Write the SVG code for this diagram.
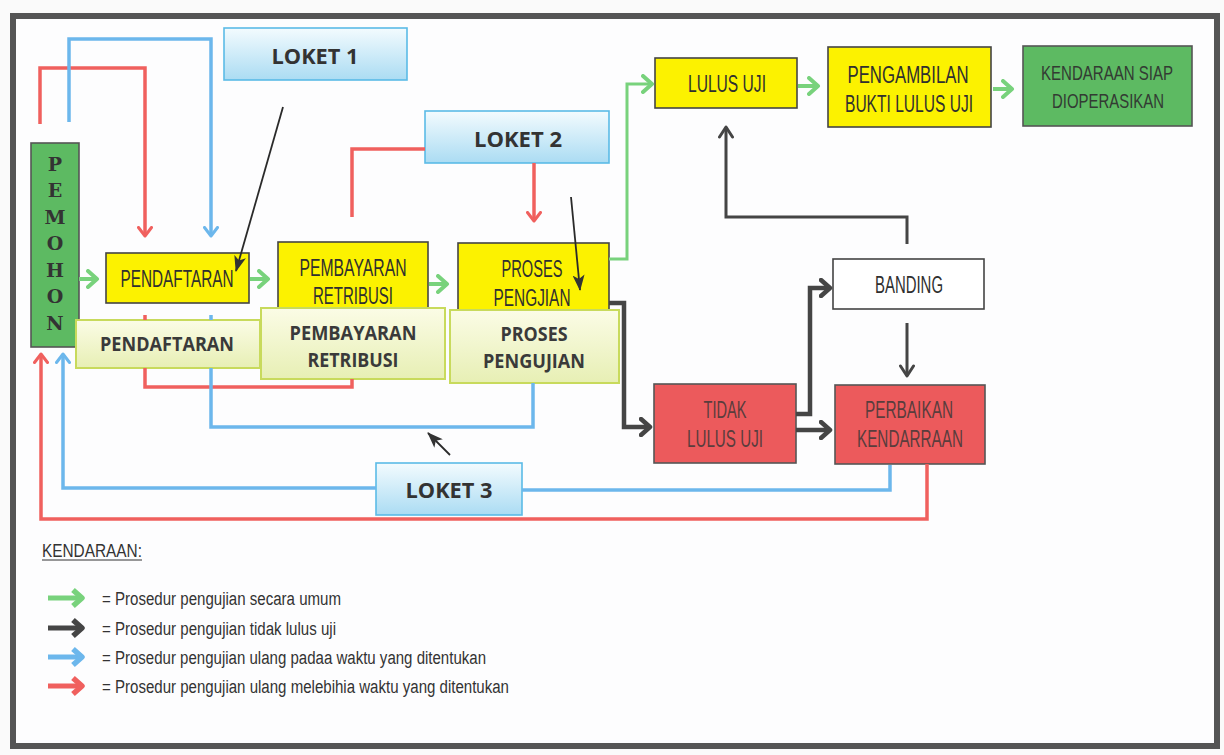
<svg xmlns="http://www.w3.org/2000/svg" width="1224" height="755" viewBox="0 0 1224 755">
<style>
.frame{fill:#fdfdfe;stroke:#555;stroke-width:6}
.yb{fill:#fcf200;stroke:#444;stroke-width:1.6}
.rb{fill:#ec5a5c;stroke:#555;stroke-width:1.6}
.gb{fill:#5dba62;stroke:#555;stroke-width:1.6}
.wb{fill:#fff;stroke:#444;stroke-width:1.6}
.lb{fill:url(#glk);stroke:#5bbbe6;stroke-width:1.6}
.pb{fill:url(#gpl);stroke:#c8da5c;stroke-width:2}
.yt{font-family:"Liberation Sans",Arial,sans-serif;font-size:23px;fill:#2f2f2f;text-anchor:middle}
.rt{font-family:"Liberation Sans",Arial,sans-serif;font-size:23px;fill:#5a3d3d;text-anchor:middle}
.gt{font-family:"Liberation Sans",Arial,sans-serif;font-size:21px;fill:#333b33;text-anchor:middle}
.pt{font-family:"Open Sans","Liberation Sans",sans-serif;font-weight:bold;font-size:19px;fill:#3a3a3a;text-anchor:middle}
.lk{font-family:"Open Sans","Liberation Sans",sans-serif;font-weight:bold;font-size:21px;fill:#333;text-anchor:middle}
.pm{font-family:"DejaVu Serif",serif;font-weight:bold;font-size:19px;fill:#333;text-anchor:middle}
.lg{font-family:"Liberation Sans",Arial,sans-serif;font-size:18px;fill:#333}
.cg{fill:none;stroke:#78d27c;stroke-width:4}
.cgt{fill:none;stroke:#78d27c;stroke-width:3}
.cd{fill:none;stroke:#454545;stroke-width:4.5}
.cdt{fill:none;stroke:#454545;stroke-width:3}
.ck{fill:none;stroke:#2a2a2a;stroke-width:1.8}
.cr{fill:none;stroke:#f0605e;stroke-width:3.5}
.cb{fill:none;stroke:#6cb7ec;stroke-width:3.5}
</style>
<defs>
<linearGradient id="glk" x1="0" y1="0" x2="0" y2="1"><stop offset="0" stop-color="#f3fbfe"/><stop offset="1" stop-color="#abdcf3"/></linearGradient>
<linearGradient id="gpl" x1="0" y1="0" x2="0" y2="1"><stop offset="0" stop-color="#fbfce6"/><stop offset="1" stop-color="#e7efb4"/></linearGradient>
<marker id="ag" viewBox="0 0 14 20" refX="11" refY="10" markerWidth="14" markerHeight="20" orient="auto" markerUnits="userSpaceOnUse"><path d="M2,2 L11,10 L2,18" fill="none" stroke="#78d27c" stroke-width="4" stroke-linejoin="round" stroke-linecap="round"/></marker>
<marker id="ad" viewBox="0 0 14 20" refX="11" refY="10" markerWidth="14" markerHeight="20" orient="auto" markerUnits="userSpaceOnUse"><path d="M2,2 L11,10 L2,18" fill="none" stroke="#454545" stroke-width="4.5" stroke-linejoin="round" stroke-linecap="round"/></marker>
<marker id="adt" viewBox="0 0 14 16" refX="12" refY="8" markerWidth="14" markerHeight="16" orient="auto" markerUnits="userSpaceOnUse"><path d="M2,1.5 L12,8 L2,14.5" fill="none" stroke="#454545" stroke-width="3" stroke-linejoin="round" stroke-linecap="round"/></marker>
<marker id="ak" viewBox="0 0 16 12" refX="15" refY="6" markerWidth="16" markerHeight="12" orient="auto" markerUnits="userSpaceOnUse"><path d="M0,0 L16,6 L0,12 L4,6 Z" fill="#333"/></marker>
<marker id="ar" viewBox="0 0 12 16" refX="10" refY="8" markerWidth="12" markerHeight="16" orient="auto" markerUnits="userSpaceOnUse"><path d="M1.5,1.5 L10,8 L1.5,14.5" fill="none" stroke="#f0605e" stroke-width="3" stroke-linecap="round" stroke-linejoin="round"/></marker>
<marker id="ab" viewBox="0 0 12 16" refX="10" refY="8" markerWidth="12" markerHeight="16" orient="auto" markerUnits="userSpaceOnUse"><path d="M1.5,1.5 L10,8 L1.5,14.5" fill="none" stroke="#6cb7ec" stroke-width="3" stroke-linecap="round" stroke-linejoin="round"/></marker>
<marker id="lgg" viewBox="0 0 16 22" refX="12" refY="11" markerWidth="16" markerHeight="22" orient="auto" markerUnits="userSpaceOnUse"><path d="M3,3 L12,11 L3,19" fill="none" stroke="#78d27c" stroke-width="5.5" stroke-linejoin="round"/></marker>
<marker id="lgd" viewBox="0 0 16 22" refX="12" refY="11" markerWidth="16" markerHeight="22" orient="auto" markerUnits="userSpaceOnUse"><path d="M3,3 L12,11 L3,19" fill="none" stroke="#454545" stroke-width="5.5" stroke-linejoin="round"/></marker>
<marker id="lgb" viewBox="0 0 16 22" refX="12" refY="11" markerWidth="16" markerHeight="22" orient="auto" markerUnits="userSpaceOnUse"><path d="M3,3 L12,11 L3,19" fill="none" stroke="#6cb7ec" stroke-width="5.5" stroke-linejoin="round"/></marker>
<marker id="lgr" viewBox="0 0 16 22" refX="12" refY="11" markerWidth="16" markerHeight="22" orient="auto" markerUnits="userSpaceOnUse"><path d="M3,3 L12,11 L3,19" fill="none" stroke="#f0605e" stroke-width="5.5" stroke-linejoin="round"/></marker>
</defs>
<rect x="0" y="0" width="1224" height="755" fill="#fafafa"/>
<rect class="frame" x="13" y="16" width="1204" height="730"/>

<g id="pemohon"><rect class="gb" x="31" y="143" width="48" height="204"/>
<text class="pm" x="55" y="171">P</text><text class="pm" x="55" y="197">E</text><text class="pm" x="55" y="224">M</text><text class="pm" x="55" y="250">O</text><text class="pm" x="55" y="277">H</text><text class="pm" x="55" y="303">O</text><text class="pm" x="55" y="330">N</text></g>

<g id="pendaftaran"><rect class="yb" x="106" y="253" width="143" height="50"/><text class="yt" x="177" y="287" textLength="113" lengthAdjust="spacingAndGlyphs">PENDAFTARAN</text></g>
<g id="pembayaran"><rect class="yb" x="278" y="242" width="150" height="66"/><text class="yt" x="353" y="276" textLength="107" lengthAdjust="spacingAndGlyphs">PEMBAYARAN</text><text class="yt" x="353" y="304" textLength="80" lengthAdjust="spacingAndGlyphs">RETRIBUSI</text></g>
<g id="proses"><rect class="yb" x="458" y="243" width="151" height="67"/><text class="yt" x="532" y="277" textLength="61" lengthAdjust="spacingAndGlyphs">PROSES</text><text class="yt" x="532" y="306" textLength="77" lengthAdjust="spacingAndGlyphs">PENGJIAN</text></g>

<g id="pendaftaran-2"><rect class="pb" x="76" y="320" width="184" height="48"/><text class="pt" x="167" y="351" textLength="134" lengthAdjust="spacingAndGlyphs">PENDAFTARAN</text></g>
<g id="pembayaran-2"><rect class="pb" x="261" y="308" width="184" height="71"/><text class="pt" x="353" y="340" textLength="127" lengthAdjust="spacingAndGlyphs">PEMBAYARAN</text><text class="pt" x="353" y="367" textLength="91" lengthAdjust="spacingAndGlyphs">RETRIBUSI</text></g>
<g id="proses-2"><rect class="pb" x="450" y="310" width="169" height="73"/><text class="pt" x="534" y="341" textLength="67" lengthAdjust="spacingAndGlyphs">PROSES</text><text class="pt" x="534" y="368" textLength="102" lengthAdjust="spacingAndGlyphs">PENGUJIAN</text></g>

<g id="loket1"><rect class="lb" x="224" y="28" width="183" height="52"/><text class="lk" x="315" y="64" textLength="87" lengthAdjust="spacingAndGlyphs">LOKET 1</text></g>
<g id="loket2"><rect class="lb" x="425" y="111" width="184" height="52"/><text class="lk" x="518" y="147" textLength="88" lengthAdjust="spacingAndGlyphs">LOKET 2</text></g>
<g id="loket3"><rect class="lb" x="376" y="463" width="146" height="52"/><text class="lk" x="449" y="498" textLength="87" lengthAdjust="spacingAndGlyphs">LOKET 3</text></g>

<g id="lulus"><rect class="yb" x="655" y="58" width="142" height="50"/><text class="yt" x="727" y="92" textLength="78" lengthAdjust="spacingAndGlyphs">LULUS UJI</text></g>
<g id="pengambilan"><rect class="yb" x="828" y="47" width="163" height="80"/><text class="yt" x="908" y="83" textLength="121" lengthAdjust="spacingAndGlyphs">PENGAMBILAN</text><text class="yt" x="909" y="112" textLength="128" lengthAdjust="spacingAndGlyphs">BUKTI LULUS UJI</text></g>
<g id="kendaraan"><rect class="gb" x="1023" y="46" width="169" height="80"/><text class="gt" x="1107" y="80" textLength="132" lengthAdjust="spacingAndGlyphs">KENDARAAN SIAP</text><text class="gt" x="1108" y="108" textLength="112" lengthAdjust="spacingAndGlyphs">DIOPERASIKAN</text></g>
<g id="banding"><rect class="wb" x="833" y="259" width="151" height="50"/><text class="yt" x="909" y="293" textLength="68" lengthAdjust="spacingAndGlyphs">BANDING</text></g>
<g id="tidak"><rect class="rb" x="654" y="384" width="142" height="79"/><text class="rt" x="725" y="418" textLength="43" lengthAdjust="spacingAndGlyphs">TIDAK</text><text class="rt" x="725" y="447" textLength="76" lengthAdjust="spacingAndGlyphs">LULUS UJI</text></g>
<g id="perbaikan"><rect class="rb" x="835" y="385" width="150" height="79"/><text class="rt" x="909" y="418" textLength="88" lengthAdjust="spacingAndGlyphs">PERBAIKAN</text><text class="rt" x="910" y="447" textLength="106" lengthAdjust="spacingAndGlyphs">KENDARRAAN</text></g>

<g id="connectors">
<path class="cg" d="M79,279 H97" marker-end="url(#ag)"/>
<path class="cg" d="M250,279 H268" marker-end="url(#ag)"/>
<path class="cg" d="M429,284 H447" marker-end="url(#ag)"/>
<path class="cgt" d="M609,259 H627 V84 H652" marker-end="url(#ag)"/>
<path class="cg" d="M798,86 H818" marker-end="url(#ag)"/>
<path class="cg" d="M993,89 H1012" marker-end="url(#ag)"/>
<path class="cd" d="M609,303 H624 V427 H650" marker-end="url(#ad)"/>
<path class="cd" d="M796,430 H830" marker-end="url(#ad)"/>
<path class="cd" d="M796,414 H810 V288 H830" marker-end="url(#ad)"/>
<path class="cdt" d="M907,244 V217 H726 V127" marker-end="url(#adt)"/>
<path class="cdt" d="M907,323 V376" marker-end="url(#adt)"/>
<path class="ck" d="M283,107 L236,271" marker-end="url(#ak)"/>
<path class="ck" d="M571,197 L580,290" marker-end="url(#ak)"/>
<path class="ck" d="M450,455 L428,433" marker-end="url(#ak)"/>
<path class="cr" d="M40,124 V68 H145 V236" marker-end="url(#ar)"/>
<path class="cr" d="M425,149 H352 V217"/>
<path class="cr" d="M534,163 V221" marker-end="url(#ar)"/>
<path class="cr" d="M145,315 V320 M145,368 V387 H352 V379"/>
<path class="cr" d="M927,464 V519 H41 V354" marker-end="url(#ar)"/>
<path class="cb" d="M69,122 V39 H211 V236" marker-end="url(#ab)"/>
<path class="cb" d="M211,315 V320 M211,368 V427 H533 V383"/>
<path class="cb" d="M376,488 H63 V354" marker-end="url(#ab)"/>
<path class="cb" d="M522,490 H890 V465"/>
</g>

<g id="legend">
<text class="lg" x="42" y="557" textLength="100" lengthAdjust="spacingAndGlyphs">KENDARAAN:</text>
<line x1="42" y1="560" x2="142" y2="560" stroke="#333" stroke-width="1.2"/>
<path d="M48,598 H82" fill="none" stroke="#78d27c" stroke-width="5" marker-end="url(#lgg)"/>
<path d="M48,628 H82" fill="none" stroke="#454545" stroke-width="5" marker-end="url(#lgd)"/>
<path d="M48,657 H82" fill="none" stroke="#6cb7ec" stroke-width="5" marker-end="url(#lgb)"/>
<path d="M48,686 H82" fill="none" stroke="#f0605e" stroke-width="5" marker-end="url(#lgr)"/>
<text class="lg" x="102" y="605" textLength="239" lengthAdjust="spacingAndGlyphs">= Prosedur pengujian secara umum</text>
<text class="lg" x="102" y="635" textLength="234" lengthAdjust="spacingAndGlyphs">= Prosedur pengujian tidak lulus uji</text>
<text class="lg" x="102" y="664" textLength="384" lengthAdjust="spacingAndGlyphs">= Prosedur pengujian ulang padaa waktu yang ditentukan</text>
<text class="lg" x="102" y="693" textLength="407" lengthAdjust="spacingAndGlyphs">= Prosedur pengujian ulang melebihia waktu yang ditentukan</text>
</g>
</svg>
